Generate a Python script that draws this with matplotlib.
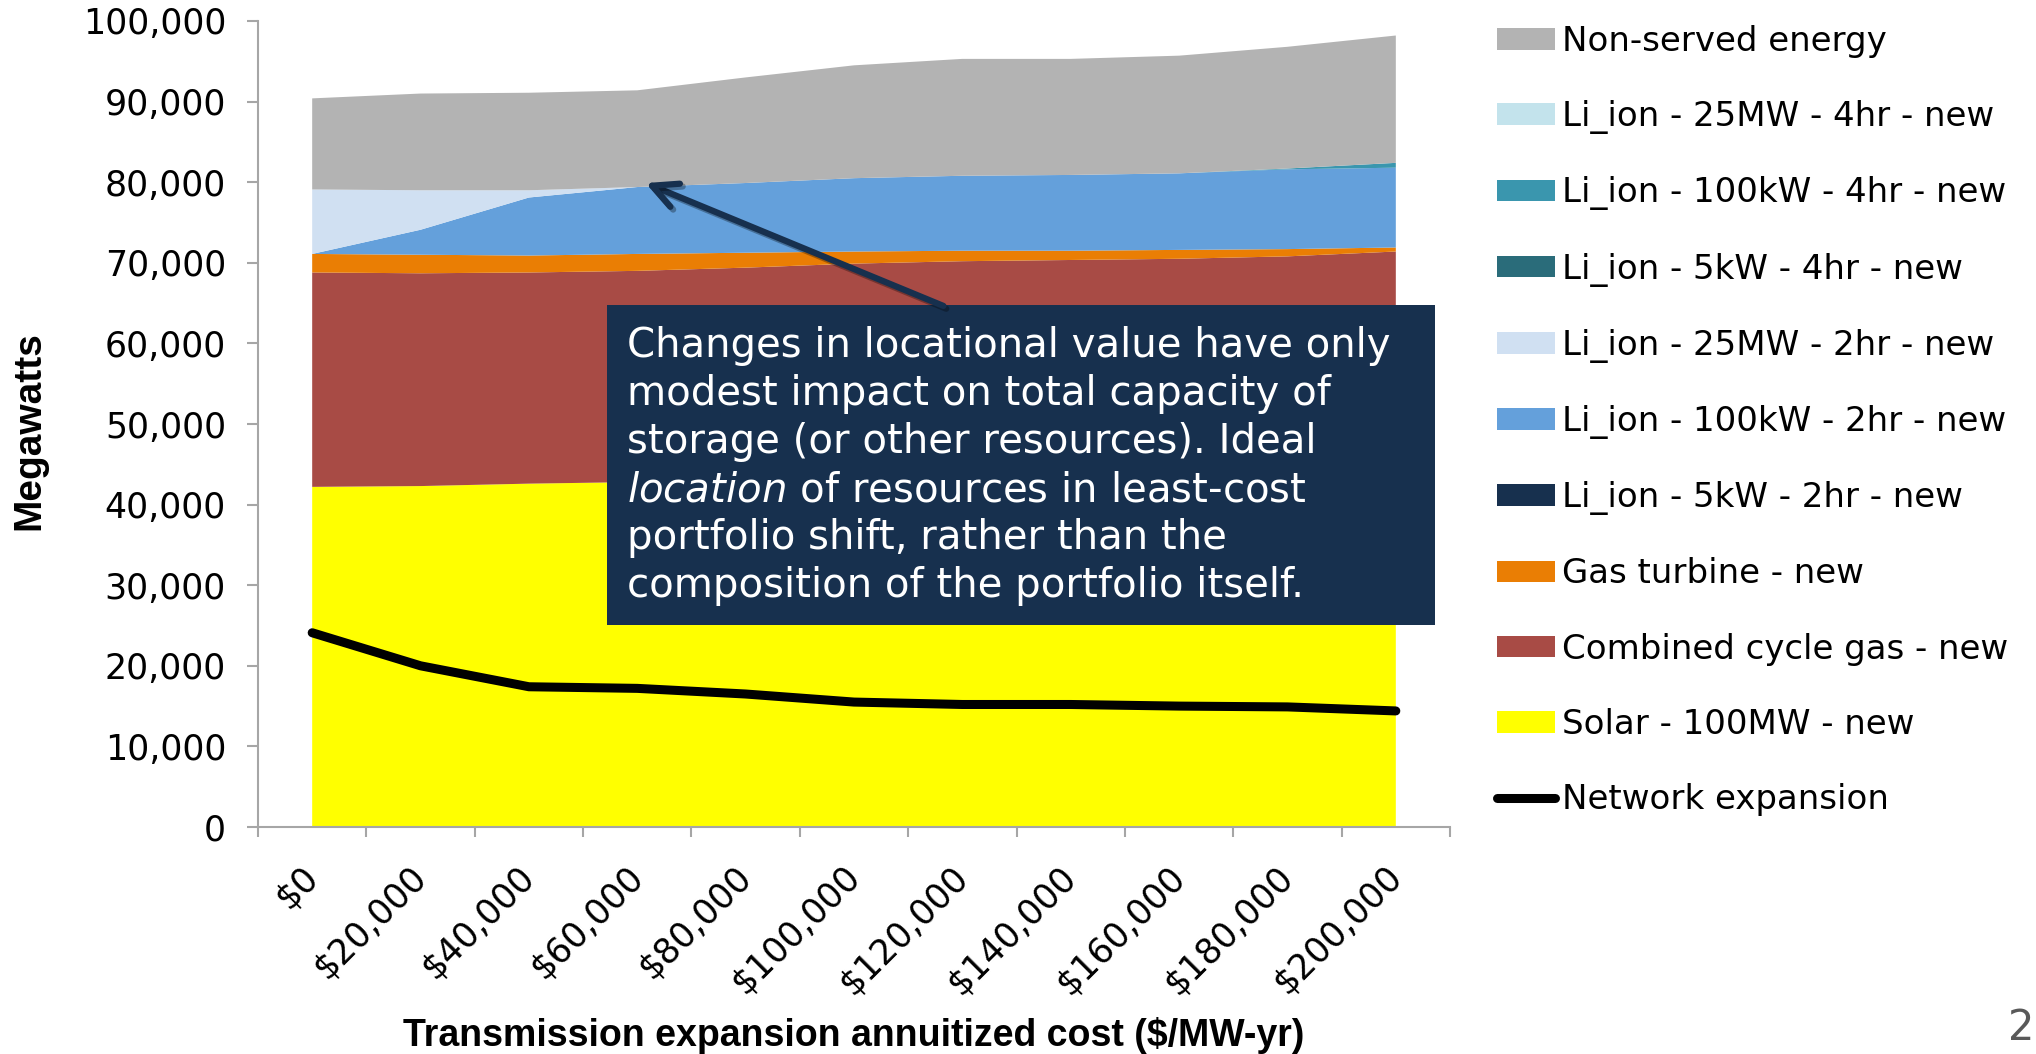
import matplotlib
matplotlib.use("Agg")
import matplotlib.pyplot as plt
import matplotlib.patheffects as pe
import matplotlib.transforms as mtransforms
import numpy as np
from matplotlib.patches import Patch, FancyArrowPatch
from matplotlib.lines import Line2D

# transmission cost categories
cost_labels = ["$0", "$20,000", "$40,000", "$60,000", "$80,000", "$100,000",
               "$120,000", "$140,000", "$160,000", "$180,000", "$200,000"]

# capacity by resource (MW), bottom of stack first
solar = [42200, 42300, 42600, 42800, 43000, 43200, 43300, 43400, 43500, 43600, 43700]
cc_gas = [26600, 26400, 26200, 26200, 26400, 26700, 26900, 26950, 27000, 27200, 27700]
gas_turbine = [2300, 2300, 2100, 2100, 1850, 1500, 1300, 1150, 1100, 900, 500]
li_5kw_2hr = [0, 0, 0, 0, 0, 0, 0, 0, 0, 0, 0]
li_100kw_2hr = [0, 3100, 7200, 8300, 8650, 9100, 9300, 9400, 9500, 9900, 9900]
li_25mw_2hr = [8000, 4900, 900, 0, 0, 0, 0, 0, 0, 0, 0]
li_5kw_4hr = [0, 0, 0, 0, 0, 0, 0, 0, 0, 0, 0]
li_100kw_4hr = [0, 0, 0, 0, 0, 0, 0, 0, 0, 100, 600]
li_25mw_4hr = [0, 0, 0, 0, 0, 0, 0, 0, 0, 0, 0]
non_served = [11300, 12000, 12100, 12000, 13100, 14000, 14500, 14400, 14600, 15100, 15800]

network = [24100, 20000, 17400, 17200, 16500, 15500, 15200, 15200, 15000, 14900, 14400]

names = ["Solar - 100MW - new", "Combined cycle gas - new", "Gas turbine - new",
         "Li_ion - 5kW - 2hr - new", "Li_ion - 100kW - 2hr - new", "Li_ion - 25MW - 2hr - new",
         "Li_ion - 5kW - 4hr - new", "Li_ion - 100kW - 4hr - new", "Li_ion - 25MW - 4hr - new",
         "Non-served energy"]
colors = ["#FFFF00", "#A84B45", "#EA7E04", "#17304E", "#64A0DB", "#D0E0F2",
          "#2A6C7A", "#3A96AE", "#C3E3EC", "#B3B3B3"]
series = [solar, cc_gas, gas_turbine, li_5kw_2hr, li_100kw_2hr, li_25mw_2hr,
          li_5kw_4hr, li_100kw_4hr, li_25mw_4hr, non_served]

W, H = 2036, 1054
fig = plt.figure(figsize=(W / 100, H / 100), dpi=100)
ax = fig.add_axes([258 / W, 1 - 827 / H, (1450 - 258) / W, (827 - 21) / H])

x = np.arange(len(cost_labels))
ax.stackplot(x, *series, colors=colors, linewidth=0)
ax.plot(x, network, color="black", lw=6.5, solid_capstyle="round", zorder=5)

ax.set_xlim(-0.5, len(x) - 0.5)
ax.set_ylim(0, 100000)
ax.set_yticks(np.arange(0, 100001, 10000))
ax.set_yticklabels([f"{v:,}" for v in range(0, 100001, 10000)], fontsize=25)
ax.set_xticks(x)
ax.set_xticklabels(cost_labels, fontsize=25, rotation=45, ha="right", va="center",
                   rotation_mode="anchor")
ax.set_xticks(np.arange(-0.5, len(x), 1.0), minor=True)
shift = mtransforms.ScaledTranslation(10 / 100, 0, fig.dpi_scale_trans)
for lab in ax.get_xticklabels():
    lab.set_transform(lab.get_transform() + shift)

grey = "#A6A6A6"
for s in ["top", "right"]:
    ax.spines[s].set_visible(False)
for s in ["left", "bottom"]:
    ax.spines[s].set_color(grey)
    ax.spines[s].set_linewidth(1.5)
ax.tick_params(axis="y", length=8, width=1.5, color=grey, pad=15)
ax.tick_params(axis="x", which="major", length=0, pad=32)
ax.tick_params(axis="x", which="minor", length=7, width=1.5, color=grey)

fig.text(854 / W, 1 - 1035 / H, "Transmission expansion annuitized cost ($/MW-yr)",
         ha="center", va="center", fontsize=27, fontweight="bold", family="Liberation Sans")
fig.text(29 / W, 1 - 431 / H, "Megawatts", rotation=90, ha="center", va="center",
         fontsize=28, fontweight="bold", family="Liberation Sans")

# annotation box
box_x0, box_y0, box_x1, box_y1 = 607, 305, 1435, 625
fig.patches.append(plt.Rectangle((box_x0 / W, 1 - box_y1 / H), (box_x1 - box_x0) / W,
                                 (box_y1 - box_y0) / H, transform=fig.transFigure,
                                 facecolor="#17304E", edgecolor="none", zorder=6))
note = ("Changes in locational value have only\n"
        "modest impact on total capacity of\n"
        "storage (or other resources). Ideal\n"
        "$\\mathit{location}$ of resources in least-cost\n"
        "portfolio shift, rather than the\n"
        "composition of the portfolio itself.")
fig.text(627 / W, 1 - 326 / H, note, color="white", fontsize=29, va="top", ha="left",
         linespacing=1.26, zorder=7)

arrow = FancyArrowPatch((946 / W, 1 - 307 / H), (643 / W, 1 - 182 / H),
                        transform=fig.transFigure,
                        arrowstyle="->,head_length=18,head_width=9", lw=4.5,
                        color="#17304E", zorder=7)
arrow.set_path_effects([pe.SimpleLineShadow(offset=(2, -2), alpha=0.3), pe.Normal()])
fig.add_artist(arrow)

# legend
handles = [Patch(facecolor=c, edgecolor="none") for c in colors[::-1]]
labels = names[::-1]
handles.append(Line2D([0], [0], color="black", lw=6.5, solid_capstyle="round"))
labels.append("Network expansion")
fig.legend(handles, labels, loc="upper left", bbox_to_anchor=(1497 / W, 1 - 25 / H),
           frameon=False, fontsize=24.5, borderpad=0, borderaxespad=0,
           handlelength=1.7, handleheight=0.6, handletextpad=0.2, labelspacing=1.24)

fig.text(2008 / W, 1 - 1040 / H, "2", color="#595959", fontsize=30, ha="left",
         va="baseline")

fig.savefig("out.png", dpi=100)
